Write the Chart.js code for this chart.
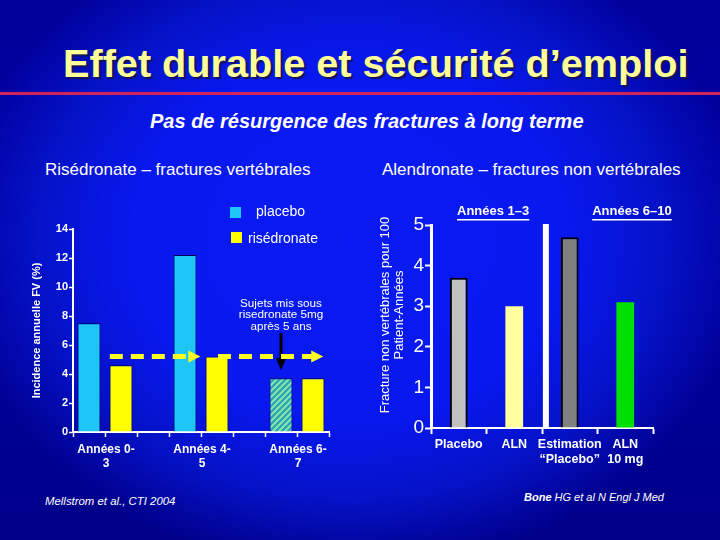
<!DOCTYPE html>
<html>
<head>
<meta charset="utf-8">
<script src="https://cdn.jsdelivr.net/npm/chart.js@4.4.1/dist/chart.umd.min.js"></script>
<style>
body {
  margin: 0;
  width: 720px;
  height: 540px;
  overflow: hidden;
  position: relative;
  font-family: "Liberation Sans", Arial, sans-serif;
  background:
    radial-gradient(ellipse 400px 330px at 350px 240px, #0a1af4 0%, #0818ee 55%, #0512c8 78%, rgba(0,8,150,0) 100%),
    linear-gradient(#00009a, #0000a0 40%, #00008a);
}
.txt { position: absolute; color: #fff; white-space: nowrap; line-height: 1; }
#titre {
  left: 63px; top: 44px; font-size: 39px; font-weight: bold; color: #ffff99;
  text-shadow: 2px 2px 1px #14145a; transform-origin: left top;
}
#filet { position: absolute; left: 0; top: 92px; width: 720px; height: 3px; background: #d0245a; }
#sous { left: 150px; top: 111px; font-size: 20px; font-weight: bold; font-style: italic; }
.stitre { top: 161px; font-size: 17px; }
.ref { font-style: italic; }
.box { position: absolute; }
</style>
</head>
<body>
<div class="txt" id="titre">Effet durable et sécurité d’emploi</div>
<div id="filet"></div>
<div class="txt" id="sous">Pas de résurgence des fractures à long terme</div>
<div class="txt stitre" style="left:45px">Risédronate – fractures vertébrales</div>
<div class="txt stitre" style="left:382px">Alendronate – fractures non vertébrales</div>

<div class="box" style="left:0;top:200px;width:345px;height:290px"><canvas id="ris"></canvas></div>
<div class="box" style="left:360px;top:195px;width:360px;height:285px"><canvas id="aln"></canvas></div>

<div class="txt ref" style="left:45px;top:496px;font-size:11.4px">Mellstrom et al., CTI 2004</div>
<div class="txt ref" style="left:524px;top:492px;font-size:11px"><b>Bone</b> HG et al N Engl J Med</div>

<script>
var t = document.getElementById("titre");
t.style.transform = "scaleX(" + (625 / t.offsetWidth) + ")";

Chart.defaults.font.family = '"Liberation Sans", Arial, sans-serif';
Chart.defaults.color = "#fff";

// risedronate - fractures vertebrales (incidence annuelle %)
const periodes = [["Années 0-", "3"], ["Années 4-", "5"], ["Années 6-", "7"]];
const placebo = [7.5, 12.2, null];
const risedronate = [4.6, 5.2, 3.7];
const placeboPuisRis = [null, null, 3.7];
const niveau = 5.2;

// alendronate - fractures non vertebrales pour 100 patient-annees
const traitements = [["Placebo"], ["ALN"], ["Estimation", "“Placebo”"], ["ALN", "10 mg"]];
const fracturesNV = [3.7, 3.0, 4.7, 3.1];
const periodesALN = ["Années 1–3", "Années 6–10"];
const titreY2 = ["Fracture non vertébrales pour 100", "Patient-Années"];

// 3 places par periode : placebo, risedronate, vide (pas de vide a la fin)
var labels1 = [], dPla = [], dRis = [], dHach = [];
periodes.forEach(function(p, i) {
  labels1.push(p, "");
  dPla.push(placebo[i], null);
  dRis.push(null, risedronate[i]);
  dHach.push(placeboPuisRis[i], null);
  if (i < periodes.length - 1) {
    labels1.push("");
    dPla.push(null); dRis.push(null); dHach.push(null);
  }
});

var ctx1 = document.getElementById("ris").getContext("2d");

function hachures() {
  var c = document.createElement("canvas");
  c.width = 6; c.height = 6;
  var g = c.getContext("2d");
  g.fillStyle = "#2aa2b8";
  g.fillRect(0, 0, 6, 6);
  g.strokeStyle = "#88e8a8";
  g.lineWidth = 2;
  g.beginPath();
  g.moveTo(-1, 7); g.lineTo(7, -1);
  g.moveTo(-4, 4); g.lineTo(4, -4);
  g.moveTo(2, 10); g.lineTo(10, 2);
  g.stroke();
  return ctx1.createPattern(c, "repeat");
}

function fleche(ctx, x1, x2, y) {
  ctx.save();
  ctx.strokeStyle = "#ffff22";
  ctx.fillStyle = "#ffff22";
  ctx.lineWidth = 5;
  ctx.setLineDash([13, 8]);
  ctx.beginPath();
  ctx.moveTo(x1, y);
  ctx.lineTo(x2 - 11, y);
  ctx.stroke();
  ctx.beginPath();
  ctx.moveTo(x2, y);
  ctx.lineTo(x2 - 12, y - 6);
  ctx.lineTo(x2 - 12, y + 6);
  ctx.closePath();
  ctx.fill();
  ctx.restore();
}

var annotRis = {
  id: "annotRis",
  afterDatasetsDraw: function(chart) {
    var ctx = chart.ctx, a = chart.chartArea, x = chart.scales.x, y = chart.scales.y;
    ctx.save();
    // legende
    ctx.fillStyle = "#1ec6f5";
    ctx.fillRect(a.right - 99, a.top - 22, 11, 11);
    ctx.fillStyle = "#ffff00";
    ctx.fillRect(a.right - 98, a.top + 3, 11, 11);
    ctx.fillStyle = "#fff";
    ctx.font = '14px "Liberation Sans", Arial, sans-serif';
    ctx.textBaseline = "middle";
    ctx.textAlign = "left";
    ctx.fillText("placebo", a.right - 73, a.top - 17);
    ctx.fillText("risédronate", a.right - 81, a.top + 10);

    // texte + fleche noire
    var xc = x.getPixelForValue(6);
    ctx.textAlign = "center";
    ctx.font = '11.7px "Liberation Sans", Arial, sans-serif';
    ctx.fillText("Sujets mis sous", xc, a.top + 75);
    ctx.fillText("risedronate 5mg", xc, a.top + 86);
    ctx.fillText("après 5 ans", xc, a.top + 98);
    var bout = y.getPixelForValue(placeboPuisRis[2]) - 8;
    ctx.strokeStyle = "#000";
    ctx.fillStyle = "#000";
    ctx.lineWidth = 3;
    ctx.beginPath();
    ctx.moveTo(xc, a.top + 104);
    ctx.lineTo(xc, bout - 10);
    ctx.stroke();
    ctx.beginPath();
    ctx.moveTo(xc, bout);
    ctx.lineTo(xc - 5, bout - 12);
    ctx.lineTo(xc + 5, bout - 12);
    ctx.closePath();
    ctx.fill();
    ctx.restore();

    // fleches jaunes en tirets
    var yl = y.getPixelForValue(niveau);
    fleche(ctx, x.getPixelForValue(0.65), x.getPixelForValue(3.48), yl);
    fleche(ctx, x.getPixelForValue(4.03), x.getPixelForValue(7.32), yl);
  }
};

new Chart(ctx1, {
  type: "bar",
  data: {
    labels: labels1,
    datasets: [
      { label: "placebo", data: dPla, backgroundColor: "#1ec6f5", borderColor: "#000050", borderWidth: 1, grouped: false },
      { label: "risédronate", data: dRis, backgroundColor: "#ffff00", borderColor: "#000050", borderWidth: 1, grouped: false },
      { label: "placebo puis risédronate", data: dHach, backgroundColor: hachures(), borderColor: "#000050", borderWidth: 1, grouped: false }
    ]
  },
  options: {
    responsive: true,
    maintainAspectRatio: false,
    animation: false,
    layout: { padding: { top: 29, right: 16, bottom: 13, left: 0 } },
    datasets: { bar: { barPercentage: 0.72, categoryPercentage: 1 } },
    plugins: { legend: { display: false }, tooltip: { enabled: false } },
    scales: {
      x: {
        grid: { offset: true, drawOnChartArea: false, color: "#fff", tickLength: 5, tickWidth: 1.5 },
        border: { color: "#fff", width: 2 },
        ticks: { color: "#fff", font: { size: 12, weight: "bold", lineHeight: 1.15 }, labelOffset: 17, padding: 6, maxRotation: 0, autoSkip: false },
        afterFit: function(s) { s.height = 45; }
      },
      y: {
        min: 0,
        max: 14,
        ticks: { stepSize: 2, color: "#fff", font: { size: 11, weight: "bold" }, padding: 1 },
        grid: { drawOnChartArea: false, color: "#fff", tickLength: 4, tickWidth: 1.5 },
        border: { color: "#fff", width: 2 },
        title: { display: true, text: "Incidence annuelle FV (%)", color: "#fff", font: { size: 11, weight: "bold" }, padding: { top: 30, bottom: 0 } },
        afterFit: function(s) { s.width = 73; }
      }
    }
  },
  plugins: [annotRis]
});

var annotAln = {
  id: "annotAln",
  afterDatasetsDraw: function(chart) {
    var ctx = chart.ctx, a = chart.chartArea, x = chart.scales.x;
    ctx.save();
    // separateur blanc
    ctx.fillStyle = "#fff";
    ctx.fillRect(x.getPixelForValue(1.57) - 3, a.top - 1, 6, a.bottom - a.top);
    // en-tetes soulignes
    ctx.font = 'bold 13px "Liberation Sans", Arial, sans-serif';
    ctx.textAlign = "center";
    ctx.textBaseline = "middle";
    [0.62, 3.12].forEach(function(v, i) {
      var xc = x.getPixelForValue(v), yc = a.top - 14;
      var w = ctx.measureText(periodesALN[i]).width;
      ctx.fillText(periodesALN[i], xc, yc);
      ctx.fillRect(xc - w / 2, yc + 8, w, 1.5);
    });
    // titre de l'axe y (decale vers le haut comme sur la diapo)
    ctx.font = '13px "Liberation Sans", Arial, sans-serif';
    ctx.translate(25, a.top + 90);
    ctx.rotate(-Math.PI / 2);
    ctx.fillText(titreY2[0], 0, 0);
    ctx.fillText(titreY2[1], 0, 14);
    ctx.restore();
  }
};

new Chart(document.getElementById("aln"), {
  type: "bar",
  data: {
    labels: traitements,
    datasets: [{
      label: "Fractures non vertébrales",
      data: fracturesNV,
      backgroundColor: ["#c0c0c0", "#ffffa0", "#808080", "#00e000"],
      borderColor: ["#000", "#ffffa0", "#000", "#00e000"],
      borderWidth: [2, 0, 2, 0],
      barPercentage: 0.32,
      categoryPercentage: 1
    }]
  },
  options: {
    responsive: true,
    maintainAspectRatio: false,
    animation: false,
    layout: { padding: { top: 30, right: 67, bottom: 7, left: 0 } },
    plugins: { legend: { display: false }, tooltip: { enabled: false } },
    scales: {
      x: {
        grid: { offset: true, drawOnChartArea: false, color: "#fff", tickLength: 6, tickWidth: 2 },
        border: { color: "#fff", width: 2 },
        ticks: { color: "#fff", font: { size: 12.5, weight: "bold", lineHeight: 1.2 }, padding: 3, maxRotation: 0, autoSkip: false },
        afterFit: function(s) { s.height = 45; }
      },
      y: {
        min: 0,
        max: 5,
        ticks: { stepSize: 1, color: "#fff", font: { size: 19 }, padding: 1 },
        grid: { drawOnChartArea: false, color: "#fff", tickLength: 6, tickWidth: 2 },
        border: { color: "#fff", width: 3 },
        title: { display: false },
        afterFit: function(s) { s.width = 71; }
      }
    }
  },
  plugins: [annotAln]
});
</script>
</body>
</html>
